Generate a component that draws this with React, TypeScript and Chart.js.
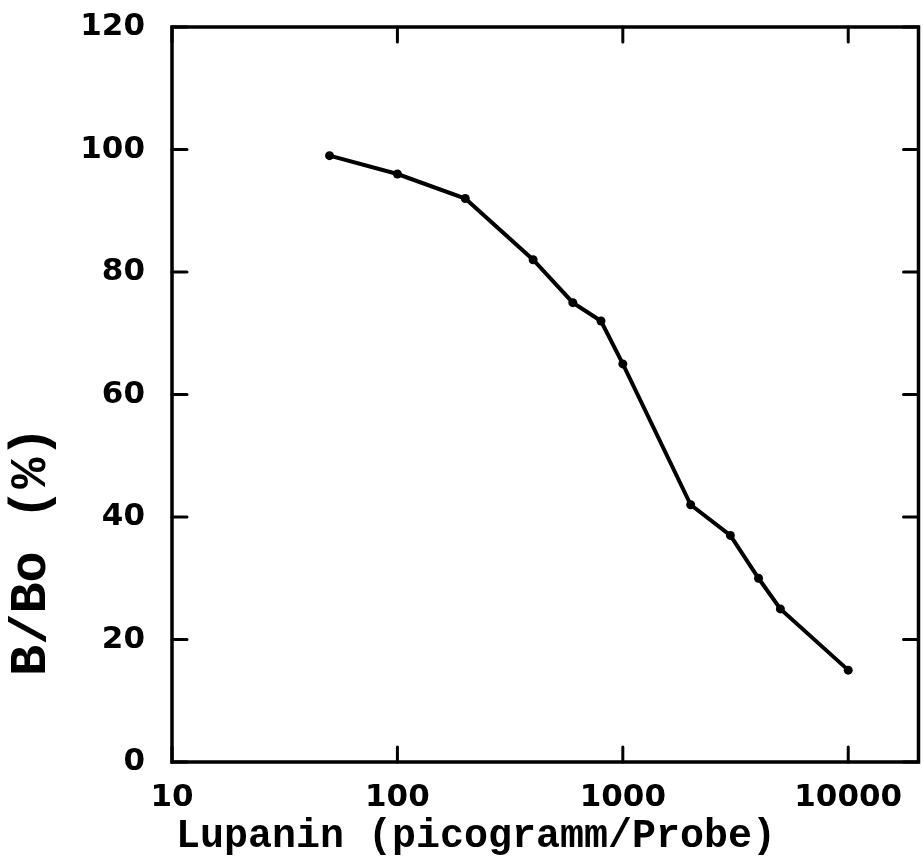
import React, { useEffect, useRef } from 'react';
import { Chart, registerables } from 'chart.js';

Chart.register(...registerables);

// Data
const concentrations = [50, 100, 200, 400, 600, 800, 1000, 2000, 3000, 4000, 5000, 10000];
const bBoPercent = [99, 96, 92, 82, 75, 72, 65, 42, 37, 30, 25, 15];
const xTickValues = [10, 100, 1000, 10000];
const yTickValues = [0, 20, 40, 60, 80, 100, 120];
const xTitle = 'Lupanin (picogramm/Probe)';
const yTitle = 'B/Bo (%)';

const frameAndTitles = {
  id: 'frameAndTitles',
  afterDraw(chart: any) {
    const { ctx, chartArea } = chart;
    const { left, right, top, bottom } = chartArea;
    const xs = chart.scales.x;
    const ys = chart.scales.y;
    ctx.save();
    ctx.strokeStyle = '#000';
    ctx.lineWidth = 3.5;
    ctx.strokeRect(left, top, right - left, bottom - top);
    ctx.lineWidth = 3;
    ctx.lineCap = 'round';
    const tick = 15;
    xTickValues.forEach((v) => {
      const px = xs.getPixelForValue(v);
      ctx.beginPath();
      ctx.moveTo(px, bottom);
      ctx.lineTo(px, bottom - tick);
      ctx.moveTo(px, top);
      ctx.lineTo(px, top + tick);
      ctx.stroke();
    });
    yTickValues.forEach((v) => {
      const py = ys.getPixelForValue(v);
      ctx.beginPath();
      ctx.moveTo(left, py);
      ctx.lineTo(left + tick, py);
      ctx.moveTo(right, py);
      ctx.lineTo(right - tick, py);
      ctx.stroke();
    });
    ctx.fillStyle = '#000';
    ctx.font = 'bold 40px "Liberation Mono"';
    ctx.textAlign = 'left';
    ctx.textBaseline = 'alphabetic';
    ctx.fillText(xTitle, left + 4, 847);
    ctx.translate(45, 676);
    ctx.rotate(-Math.PI / 2);
    ctx.font = 'bold 52px "Liberation Mono"';
    ctx.fillText(yTitle, 0, 0);
    ctx.restore();
  },
};

export default function App() {
  const canvasRef = useRef<HTMLCanvasElement | null>(null);

  useEffect(() => {
    document.body.style.margin = '0';
    const canvas = canvasRef.current;
    if (!canvas) return;
    const tickFont = { family: '"DejaVu Sans"', size: 31, weight: 'bold' as const };
    const chart = new Chart(canvas, {
      type: 'line',
      data: {
        datasets: [
          {
            data: concentrations.map((c, i) => ({ x: c, y: bBoPercent[i] })),
            borderColor: '#000',
            backgroundColor: '#000',
            borderWidth: 4,
            pointRadius: 4.5,
            pointBackgroundColor: '#000',
            pointBorderWidth: 0,
            tension: 0,
            fill: false,
          },
        ],
      },
      options: {
        responsive: false,
        animation: false,
        layout: { padding: { top: 27, right: 3, left: 0, bottom: 0 } },
        plugins: {
          legend: { display: false },
          tooltip: { enabled: false },
          title: { display: false },
        },
        scales: {
          x: {
            type: 'logarithmic',
            min: 10,
            max: 20500,
            afterBuildTicks: (scale: any) => {
              scale.ticks = xTickValues.map((v) => ({ value: v }));
            },
            afterFit: (scale: any) => {
              scale.height = 101;
              scale.paddingLeft = 0;
              scale.paddingRight = 0;
            },
            grid: { display: false, drawTicks: false },
            border: { display: false },
            ticks: {
              autoSkip: false,
              maxRotation: 0,
              padding: 17,
              color: '#000',
              font: tickFont,
              callback: (value: any) => String(value),
            },
          },
          y: {
            type: 'linear',
            min: 0,
            max: 120,
            afterBuildTicks: (scale: any) => {
              scale.ticks = yTickValues.map((v) => ({ value: v }));
            },
            afterFit: (scale: any) => {
              scale.width = 172;
              scale.paddingTop = 0;
              scale.paddingBottom = 0;
            },
            grid: { display: false, drawTicks: false },
            border: { display: false },
            ticks: {
              padding: 27,
              color: '#000',
              font: tickFont,
              callback: (value: any) => String(value),
            },
          },
        },
      },
      plugins: [frameAndTitles],
    });
    return () => chart.destroy();
  }, []);

  return (
    <div style={{ width: 923, height: 863, background: '#fff' }}>
      <canvas ref={canvasRef} width={923} height={863} style={{ display: 'block' }} />
    </div>
  );
}
